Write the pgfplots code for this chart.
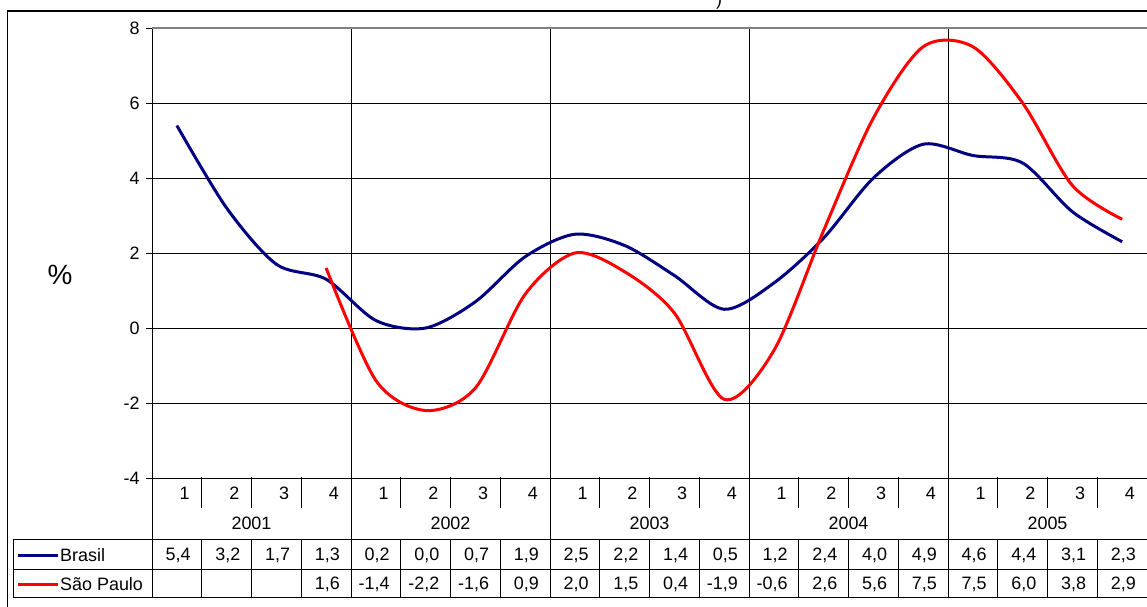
\documentclass[border=0pt]{standalone}
\usepackage{pgfplots}
\pgfplotsset{compat=1.18}
\usepackage{pgfplotstable}
\usepackage{fontspec}
\setmainfont{Liberation Sans}

\definecolor{brnavy}{RGB}{0,0,128}
\newcommand{\tabfont}{\fontsize{18}{21}\selectfont}

% quarterly variation, Brasil (2001 Q1 -- 2005 Q4)
\pgfplotstableread{
q br
0 5.4
1 3.2
2 1.7
3 1.3
4 0.2
5 0.0
6 0.7
7 1.9
8 2.5
9 2.2
10 1.4
11 0.5
12 1.2
13 2.4
14 4.0
15 4.9
16 4.6
17 4.4
18 3.1
19 2.3
}\brasil

% quarterly variation, Sao Paulo (2001 Q4 -- 2005 Q4)
\pgfplotstableread{
q sp
3 1.6
4 -1.4
5 -2.2
6 -1.6
7 0.9
8 2.0
9 1.5
10 0.4
11 -1.9
12 -0.6
13 2.6
14 5.6
15 7.5
16 7.5
17 6.0
18 3.8
19 2.9
}\saopaulo

\begin{document}
\begin{tikzpicture}[x=1bp,y=1bp]
\useasboundingbox (0,0) rectangle (1147,-607);
% outer frame
\draw[black, line width=1.5bp] (7.5,-640) -- (7.5,-11) -- (1200,-11);
\node[font=\fontsize{18}{20}\selectfont, inner sep=0pt] at (719,-1) {)};

\begin{axis}[
  at={(152bp,-478bp)}, anchor=south west,
  scale only axis, width=995bp, height=450bp,
  xmin=-0.5, xmax=19.5, ymin=-4, ymax=8,
  ytick={-4,-2,...,8}, xtick=\empty,
  axis x line*=bottom, axis y line*=left,
  axis line style={black, line width=0.8bp},
  ymajorgrids, major grid style={black, line width=0.8bp},
  tick align=outside, major tick length=6bp,
  ytick style={black, line width=0.8bp},
  yticklabel style={font=\fontsize{18}{21}\selectfont, xshift=-3bp},
  /pgf/number format/assume math mode=true,
  clip=false,
]
% year separators and top line of the plot area
\foreach \xb in {3.5,7.5,11.5,15.5} {
  \edef\tmp{\noexpand\draw[black, line width=0.8bp] (axis cs:\xb,-4) -- (axis cs:\xb,8);}
  \tmp
}
\draw[gray, line width=2.5bp] (axis cs:-0.5,8) -- (axis cs:19.5,8);

\addplot[brnavy, line width=3bp, smooth] table[x=q, y=br] {\brasil};
\addplot[red, line width=3bp, smooth] table[x=q, y=sp] {\saopaulo};

% values printed in the data table
\addplot[draw=none, mark=none, nodes near coords, point meta=explicit,
  nodes near coords={\pgfmathprintnumber[fixed, fixed zerofill, precision=1, use comma, assume math mode=true]{\pgfplotspointmeta}},
  nodes near coords align={anchor=east},
  every node near coord/.append style={font=\tabfont, inner sep=0pt, text=black}]
  table[x expr=\thisrow{q}+0.28, y expr=-6.053, meta=br] {\brasil};
\addplot[draw=none, mark=none, nodes near coords, point meta=explicit,
  nodes near coords={\pgfmathprintnumber[fixed, fixed zerofill, precision=1, use comma, assume math mode=true]{\pgfplotspointmeta}},
  nodes near coords align={anchor=east},
  every node near coord/.append style={font=\tabfont, inner sep=0pt, text=black}]
  table[x expr=\thisrow{q}+0.28, y expr=-6.827, meta=sp] {\saopaulo};
\end{axis}

% axis title
\node[font=\fontsize{28}{30}\selectfont, inner sep=0pt] at (60,-275) {\%};

% category axis: quarters and years
\foreach \k in {1,...,19} {
  \pgfmathsetmacro\xx{152+49.75*\k}
  \draw[black, line width=0.8bp] (\xx,-477) -- (\xx,-508);
}
\foreach \k in {0,4,8,12,16} {
  \pgfmathsetmacro\xx{152+49.75*\k}
  \draw[black, line width=0.8bp] (\xx,-477) -- (\xx,-539);
}
\foreach \i in {0,...,19} {
  \pgfmathsetmacro\xr{152+49.75*(\i+1)-12}
  \pgfmathtruncatemacro\qq{mod(\i,4)+1}
  \node[anchor=east, inner sep=0pt, font=\tabfont] at (\xr,-493) {\qq};
}
\foreach \y [count=\j from 0] in {2001,2002,2003,2004,2005} {
  \pgfmathsetmacro\xc{152+49.75*(4*\j+2)}
  \node[inner sep=0pt, font=\tabfont] at (\xc,-523) {\y};
}

% data table grid
\foreach \yy in {-539,-569,-597} {
  \draw[black, line width=0.8bp] (13,\yy) -- (1150,\yy);
}
\draw[black, line width=0.8bp] (13,-539) -- (13,-597);
\foreach \k in {0,...,20} {
  \pgfmathsetmacro\xx{152+49.75*\k}
  \draw[black, line width=0.8bp] (\xx,-539) -- (\xx,-597);
}
% legend keys inside the table
\draw[brnavy, line width=3bp] (18,-555) -- (58,-555);
\node[anchor=west, inner sep=0pt, font=\tabfont] at (60,-555) {Brasil};
\draw[red, line width=3bp] (18,-584) -- (58,-584);
\node[anchor=west, inner sep=0pt, font=\tabfont] at (60,-584) {São Paulo};
\end{tikzpicture}
\end{document}
